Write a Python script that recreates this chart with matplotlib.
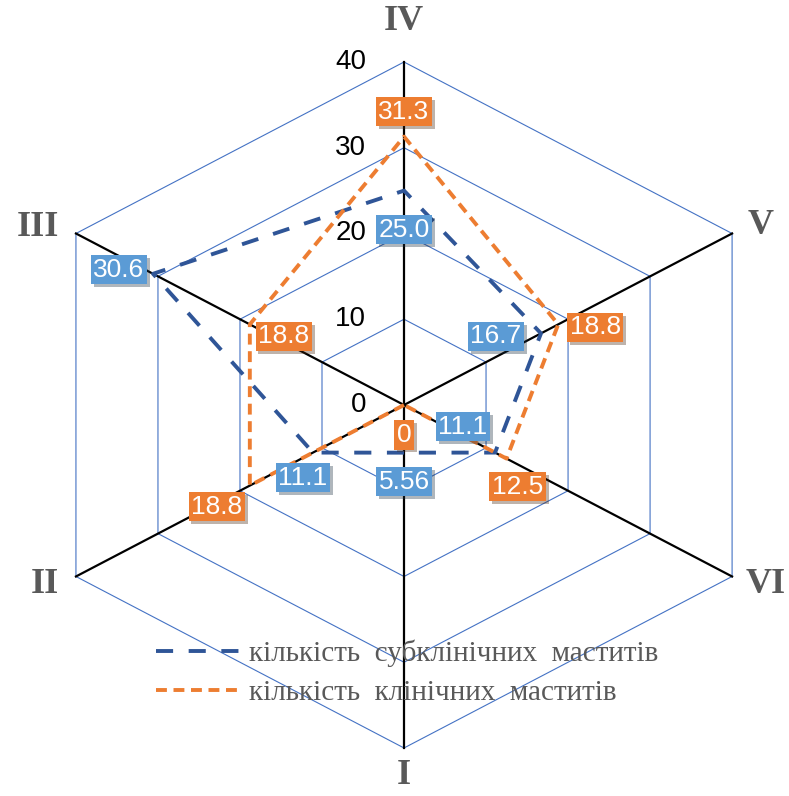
import numpy as np
import matplotlib.pyplot as plt
import matplotlib.patheffects as pe
from matplotlib.lines import Line2D

# categories go clockwise starting from the bottom spoke
categories = ["I", "II", "III", "IV", "V", "VI"]
subclinical = [5.56, 11.1, 30.6, 25.0, 16.7, 11.1]
clinical = [0, 18.8, 18.8, 31.3, 18.8, 12.5]
subclinical_labels = ["5.56", "11.1", "30.6", "25.0", "16.7", "11.1"]
clinical_labels = ["0", "18.8", "18.8", "31.3", "18.8", "12.5"]
rings = [10, 20, 30, 40]
ring_labels = ["0", "10", "20", "30", "40"]
legend_labels = ["кількість  субклінічних  маститів", "кількість  клінічних  маститів"]

# label offsets in pixels (Excel placed them by hand)
sub_off = [(0, -29), (-10, -25), (-34, 4), (0, -39), (-45, -3), (-32, 26)]
cli_off = [(0, -30), (-33, -21), (34, -12), (0, 25), (37, -3), (11, -28)]
cat_off = [(0, -28), (-31, -8), (-38, 6), (0, 40), (29, 8), (34, -8)]

BLUE_LINE = "#2F5597"
ORANGE = "#ED7D31"
BLUE_BOX = "#5B9BD5"
GRID = "#4472C4"
GRAY = "#595959"

theta = np.pi + np.arange(len(categories)) * np.pi / 3


def to_xy(vals):
    vals = np.asarray(vals, dtype=float)
    return vals * np.sin(theta), vals * np.cos(theta)


fig = plt.figure(figsize=(7.89, 7.96), dpi=100)
ax = fig.add_axes([0, 0, 1, 1])
ax.set_xlim(-42.66, 40.65)
ax.set_ylim(-45.6, 47.23)
ax.axis("off")

# hexagonal grid
for r in rings:
    gx, gy = to_xy([r] * len(categories))
    ax.plot(np.append(gx, gx[0]), np.append(gy, gy[0]), color=GRID, lw=0.8, zorder=1)

# spokes
ox, oy = to_xy([rings[-1]] * len(categories))
for x, y in zip(ox, oy):
    ax.plot([0, x], [0, y], color="black", lw=1.6, zorder=2)

# value ticks along the top spoke
for i, t in enumerate(ring_labels):
    ax.annotate(t, (0, i * 10), xytext=(-38, 0), textcoords="offset pixels",
                ha="right", va="center", fontsize=20, family="Liberation Sans",
                color="black", zorder=3)

# series
sx, sy = to_xy(subclinical)
cx, cy = to_xy(clinical)
ax.plot(np.append(sx, sx[0]), np.append(sy, sy[0]), color=BLUE_LINE, lw=2.8,
        dashes=(4.4, 4.0), zorder=4)
ax.plot(np.append(cx, cx[0]), np.append(cy, cy[0]), color=ORANGE, lw=2.8,
        dashes=(2.8, 1.7), zorder=5)

shadow = [pe.SimplePatchShadow(offset=(2, -2), alpha=0.35), pe.Normal()]


def data_label(x, y, txt, off, fc):
    t = ax.annotate(txt, (x, y), xytext=off, textcoords="offset pixels",
                    ha="center", va="center", fontsize=19, family="Liberation Sans",
                    color="white", zorder=6,
                    bbox=dict(boxstyle="square,pad=0.1", fc=fc, ec="none"))
    t.get_bbox_patch().set_path_effects(shadow)


for x, y, txt, off in zip(sx, sy, subclinical_labels, sub_off):
    data_label(x, y, txt, off, BLUE_BOX)
for x, y, txt, off in zip(cx, cy, clinical_labels, cli_off):
    data_label(x, y, txt, off, ORANGE)

# category names
for x, y, name, off in zip(ox, oy, categories, cat_off):
    ax.annotate(name, (x, y), xytext=off, textcoords="offset pixels",
                ha="center", va="center", fontsize=26, fontweight="bold",
                family="Liberation Serif", color=GRAY)

handles = [Line2D([], [], color=BLUE_LINE, lw=2.8, dashes=(4.4, 4.0)),
           Line2D([], [], color=ORANGE, lw=2.8, dashes=(2.8, 1.7))]
leg = ax.legend(handles, legend_labels, loc="upper left",
                bbox_to_anchor=(144 / 789, 1 - 628 / 796),
                frameon=False, handlelength=2.9, handletextpad=0.3,
                labelspacing=0.42, borderaxespad=0,
                prop={"family": "Liberation Serif", "size": 21})
for t in leg.get_texts():
    t.set_color(GRAY)

fig.savefig("out.png", dpi=100)
